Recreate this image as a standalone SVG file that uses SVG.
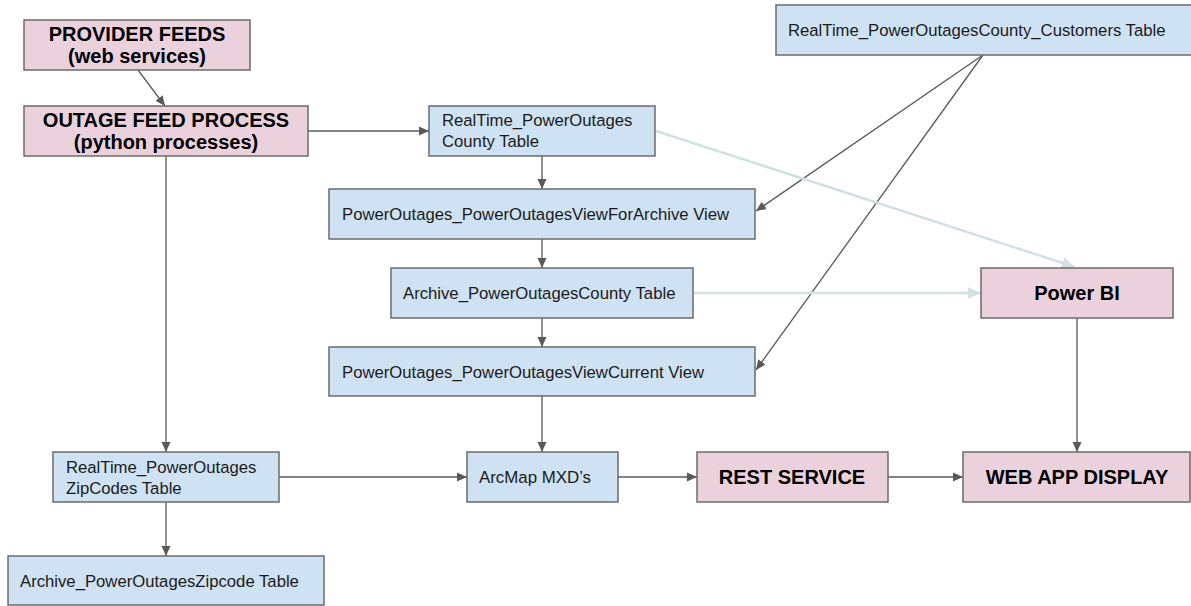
<svg xmlns="http://www.w3.org/2000/svg" width="1191" height="606" viewBox="0 0 1191 606">
<style>
.pink{fill:#ead1dc;stroke:#6b6b6b;stroke-width:1.5}
.blue{fill:#cfe2f3;stroke:#6b6b6b;stroke-width:1.5}
.b{font-family:"Liberation Sans",Arial,sans-serif;font-weight:bold;font-size:20px;fill:#000;text-anchor:middle}
.t{font-family:"Liberation Sans",Arial,sans-serif;font-size:16.7px;fill:#1a1a1a}
.c{fill:none;stroke:#595959;stroke-width:1.3}
.l{fill:none;stroke:#d0e0e3;stroke-width:2.5}
</style>
<defs>
<marker id="ah" viewBox="0 0 10 10" refX="10" refY="5" markerWidth="10" markerHeight="10" markerUnits="userSpaceOnUse" orient="auto">
<path d="M0,0.5 L10,5 L0,9.5 Z" fill="#595959"/>
</marker>
<marker id="al" viewBox="0 0 10 10" refX="10" refY="5" markerWidth="13" markerHeight="13" markerUnits="userSpaceOnUse" orient="auto">
<path d="M0,0.5 L10,5 L0,9.5 Z" fill="#d0e0e3"/>
</marker>
</defs>
<rect width="1191" height="606" fill="#ffffff"/>
<g id="connectors">
<line class="c" x1="138" y1="70" x2="165" y2="106" marker-end="url(#ah)"/>
<line class="c" x1="308" y1="131" x2="429" y2="131" marker-end="url(#ah)"/>
<line class="c" x1="166" y1="156" x2="166" y2="452" marker-end="url(#ah)"/>
<line class="c" x1="542" y1="156" x2="542" y2="189" marker-end="url(#ah)"/>
<line class="c" x1="542" y1="239" x2="542" y2="268" marker-end="url(#ah)"/>
<line class="c" x1="542" y1="318" x2="542" y2="347" marker-end="url(#ah)"/>
<line class="c" x1="542" y1="396" x2="542" y2="452" marker-end="url(#ah)"/>
<line class="c" x1="166" y1="502" x2="166" y2="556" marker-end="url(#ah)"/>
<line class="c" x1="279" y1="477" x2="467" y2="477" marker-end="url(#ah)"/>
<line class="c" x1="618" y1="477" x2="697" y2="477" marker-end="url(#ah)"/>
<line class="c" x1="888" y1="477" x2="963" y2="477" marker-end="url(#ah)"/>
<line class="c" x1="1077" y1="318" x2="1077" y2="452" marker-end="url(#ah)"/>
<line class="c" x1="983" y1="55" x2="756" y2="211" marker-end="url(#ah)"/>
<line class="c" x1="983" y1="55" x2="756" y2="370" marker-end="url(#ah)"/>
<line class="l" x1="656" y1="131" x2="1075" y2="267" marker-end="url(#al)"/>
<line class="l" x1="693" y1="293" x2="981" y2="293" marker-end="url(#al)"/>
</g>
<g id="provider-feeds">
<rect class="pink" x="24" y="20" width="226" height="50"/>
<text class="b" x="137" y="41">PROVIDER FEEDS</text>
<text class="b" x="137" y="63">(web services)</text>
</g>
<g id="outage-feed-process">
<rect class="pink" x="24" y="106" width="284" height="50"/>
<text class="b" x="166" y="127">OUTAGE FEED PROCESS</text>
<text class="b" x="166" y="149">(python processes)</text>
</g>
<g id="county-table">
<rect class="blue" x="429" y="106" width="226" height="50"/>
<text class="t" x="442" y="126">RealTime_PowerOutages</text>
<text class="t" x="442" y="147">County Table</text>
</g>
<g id="customers-table">
<rect class="blue" x="776" y="5" width="420" height="50"/>
<text class="t" x="788" y="36">RealTime_PowerOutagesCounty_Customers Table</text>
</g>
<g id="for-archive-view">
<rect class="blue" x="329" y="189" width="426" height="50"/>
<text class="t" x="342" y="220">PowerOutages_PowerOutagesViewForArchive View</text>
</g>
<g id="archive-county-table">
<rect class="blue" x="391" y="268" width="302" height="50"/>
<text class="t" x="403" y="299">Archive_PowerOutagesCounty Table</text>
</g>
<g id="current-view">
<rect class="blue" x="329" y="347" width="426" height="49"/>
<text class="t" x="342" y="378">PowerOutages_PowerOutagesViewCurrent View</text>
</g>
<g id="power-bi">
<rect class="pink" x="981" y="268" width="192" height="50"/>
<text class="b" x="1077" y="300">Power BI</text>
</g>
<g id="zipcodes-table">
<rect class="blue" x="53" y="452" width="226" height="50"/>
<text class="t" x="66" y="473">RealTime_PowerOutages</text>
<text class="t" x="66" y="494">ZipCodes Table</text>
</g>
<g id="archive-zipcode-table">
<rect class="blue" x="8" y="556" width="316" height="49"/>
<text class="t" x="20" y="587">Archive_PowerOutagesZipcode Table</text>
</g>
<g id="arcmap">
<rect class="blue" x="467" y="452" width="151" height="50"/>
<text class="t" x="479" y="483" textLength="112" lengthAdjust="spacingAndGlyphs">ArcMap MXD’s</text>
</g>
<g id="rest-service">
<rect class="pink" x="697" y="452" width="191" height="50"/>
<text class="b" x="792" y="484">REST SERVICE</text>
</g>
<g id="web-app-display">
<rect class="pink" x="963" y="452" width="227" height="50"/>
<text class="b" x="1077" y="484">WEB APP DISPLAY</text>
</g>
</svg>
